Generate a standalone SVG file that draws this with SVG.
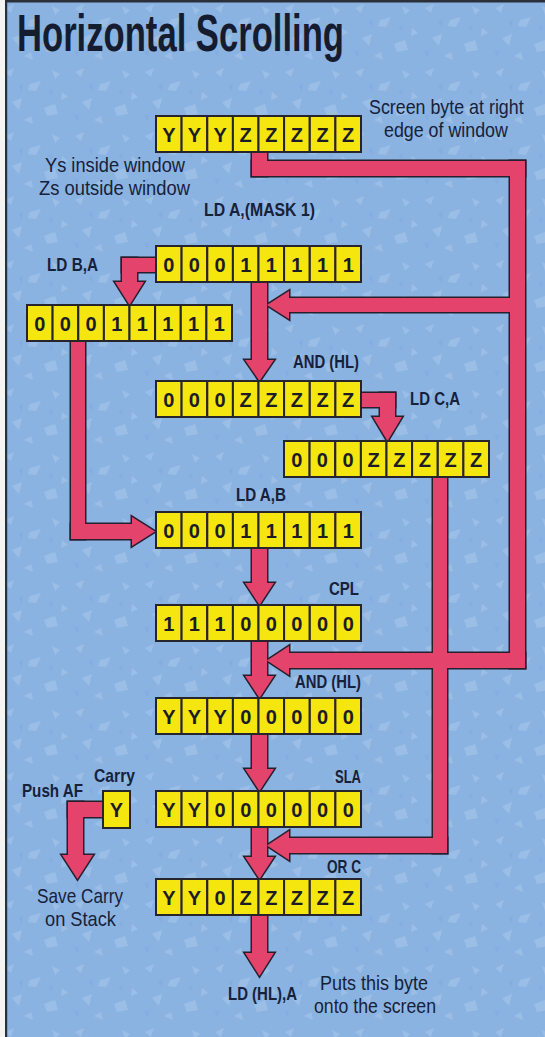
<svg xmlns="http://www.w3.org/2000/svg" xmlns:xlink="http://www.w3.org/1999/xlink" width="545" height="1037" viewBox="0 0 545 1037">
<style>
.cell{fill:#f4e60e;stroke:#26242c;stroke-width:2}
.ct{font-family:"Liberation Sans",Arial,sans-serif;font-weight:bold;font-size:20px;fill:#1c1c26;text-anchor:middle}
.lb{font-family:"Liberation Sans",Arial,sans-serif;font-weight:bold;font-size:19px;fill:#17213a}
.nt{font-family:"Liberation Sans",Arial,sans-serif;font-size:21px;fill:#17213a}
.pk-o{fill:#26202e;stroke:#26202e;stroke-width:3;stroke-linejoin:miter}
.pk-f{fill:#e4436c;stroke:none}
</style>
<defs>
<pattern id="mottle" width="70" height="64" patternUnits="userSpaceOnUse">
<rect width="70" height="64" fill="#8ab3e2"/>
<g fill="#a6c5ea" opacity="0.6">
<polygon points="5,8 14,4 11,13"/>
<polygon points="30,20 41,17 36,27 28,26"/>
<polygon points="52,6 60,10 55,15"/>
<polygon points="12,38 22,34 19,46"/>
<polygon points="44,44 55,40 58,50 47,52"/>
<polygon points="62,28 68,33 61,36"/>
<polygon points="24,56 31,52 33,60"/>
</g>
<g fill="#7ea9dc" opacity="0.5">
<polygon points="18,22 23,20 22,27"/>
<polygon points="48,28 52,25 53,31"/>
<polygon points="4,52 9,50 8,57"/>
</g>
</pattern>
<rect id="c" width="25.6" height="36" class="cell"/>
<g id="pink">
<rect x="252" y="148" width="15" height="28"/>
<rect x="252" y="161" width="273" height="15"/>
<rect x="510" y="161" width="15" height="507"/>
<rect x="286" y="298" width="230" height="14"/>
<polygon points="289,291 289,319 267,305"/>
<rect x="252" y="280" width="15" height="81"/>
<polygon points="245,360 274,360 259.5,381"/>
<rect x="122" y="258" width="36" height="14"/>
<rect x="122" y="258" width="15" height="25"/>
<polygon points="115,282 144,282 129.5,305"/>
<rect x="71" y="338" width="14" height="201"/>
<rect x="71" y="524" width="62" height="15"/>
<polygon points="132,517 132,546 155,531.5"/>
<rect x="358" y="393" width="37" height="14"/>
<rect x="380" y="393" width="15" height="25"/>
<polygon points="373,417 402,417 387.5,441"/>
<rect x="433" y="475" width="14" height="378"/>
<rect x="286" y="838" width="161" height="15"/>
<polygon points="289,831 289,860 267,845.5"/>
<rect x="286" y="653" width="239" height="15"/>
<polygon points="289,646 289,675 267,660.5"/>
<rect x="252" y="547" width="15" height="37"/>
<polygon points="245,583 274,583 259.5,605"/>
<rect x="252" y="640" width="15" height="37"/>
<polygon points="245,676 274,676 259.5,698"/>
<rect x="252" y="733" width="15" height="37"/>
<polygon points="245,769 274,769 259.5,791"/>
<rect x="252" y="826" width="15" height="32"/>
<polygon points="245,857 274,857 259.5,879"/>
<rect x="252" y="914" width="15" height="40"/>
<polygon points="245,953 274,953 259.5,976"/>
<rect x="68" y="802" width="37" height="15"/>
<rect x="68" y="802" width="15" height="54"/>
<polygon points="62,855 93,855 77.5,879"/>
</g>
</defs>

<rect x="0" y="0" width="545" height="1037" fill="#f4f4f2"/>
<rect x="6" y="2" width="539" height="1035" fill="url(#mottle)"/>
<rect x="5" y="0" width="2.2" height="1037" fill="#2a2f3a"/>
<rect x="5" y="0" width="540" height="2.5" fill="#2a2f3a"/>

<text class="lb" x="17" y="51" textLength="327" lengthAdjust="spacingAndGlyphs" style="font-size:52px;fill:#161c30">Horizontal Scrolling</text>

<g id="connectors">
<use xlink:href="#pink" class="pk-o"/>
<use xlink:href="#pink" class="pk-f"/>
</g>

<g id="reg-screen">
<use xlink:href="#c" x="156" y="116"/><use xlink:href="#c" x="181.6" y="116"/><use xlink:href="#c" x="207.3" y="116"/><use xlink:href="#c" x="232.9" y="116"/><use xlink:href="#c" x="258.5" y="116"/><use xlink:href="#c" x="284.1" y="116"/><use xlink:href="#c" x="309.8" y="116"/><use xlink:href="#c" x="335.4" y="116"/>
<text class="ct" y="142"><tspan x="168.8">Y</tspan><tspan x="194.4">Y</tspan><tspan x="220.1">Y</tspan><tspan x="245.7">Z</tspan><tspan x="271.3">Z</tspan><tspan x="296.9">Z</tspan><tspan x="322.6">Z</tspan><tspan x="348.2">Z</tspan></text>
</g>

<g id="reg-mask">
<use xlink:href="#c" x="156" y="246"/><use xlink:href="#c" x="181.6" y="246"/><use xlink:href="#c" x="207.3" y="246"/><use xlink:href="#c" x="232.9" y="246"/><use xlink:href="#c" x="258.5" y="246"/><use xlink:href="#c" x="284.1" y="246"/><use xlink:href="#c" x="309.8" y="246"/><use xlink:href="#c" x="335.4" y="246"/>
<text class="ct" y="272"><tspan x="168.8">0</tspan><tspan x="194.4">0</tspan><tspan x="220.1">0</tspan><tspan x="245.7">1</tspan><tspan x="271.3">1</tspan><tspan x="296.9">1</tspan><tspan x="322.6">1</tspan><tspan x="348.2">1</tspan></text>
</g>

<g id="reg-b">
<use xlink:href="#c" x="27" y="305"/><use xlink:href="#c" x="52.6" y="305"/><use xlink:href="#c" x="78.3" y="305"/><use xlink:href="#c" x="103.9" y="305"/><use xlink:href="#c" x="129.5" y="305"/><use xlink:href="#c" x="155.1" y="305"/><use xlink:href="#c" x="180.8" y="305"/><use xlink:href="#c" x="206.4" y="305"/>
<text class="ct" y="331"><tspan x="39.8">0</tspan><tspan x="65.4">0</tspan><tspan x="91.1">0</tspan><tspan x="116.7">1</tspan><tspan x="142.3">1</tspan><tspan x="167.9">1</tspan><tspan x="193.6">1</tspan><tspan x="219.2">1</tspan></text>
</g>

<g id="reg-and1">
<use xlink:href="#c" x="156" y="381"/><use xlink:href="#c" x="181.6" y="381"/><use xlink:href="#c" x="207.3" y="381"/><use xlink:href="#c" x="232.9" y="381"/><use xlink:href="#c" x="258.5" y="381"/><use xlink:href="#c" x="284.1" y="381"/><use xlink:href="#c" x="309.8" y="381"/><use xlink:href="#c" x="335.4" y="381"/>
<text class="ct" y="407"><tspan x="168.8">0</tspan><tspan x="194.4">0</tspan><tspan x="220.1">0</tspan><tspan x="245.7">Z</tspan><tspan x="271.3">Z</tspan><tspan x="296.9">Z</tspan><tspan x="322.6">Z</tspan><tspan x="348.2">Z</tspan></text>
</g>

<g id="reg-c">
<use xlink:href="#c" x="284" y="441"/><use xlink:href="#c" x="309.6" y="441"/><use xlink:href="#c" x="335.3" y="441"/><use xlink:href="#c" x="360.9" y="441"/><use xlink:href="#c" x="386.5" y="441"/><use xlink:href="#c" x="412.1" y="441"/><use xlink:href="#c" x="437.8" y="441"/><use xlink:href="#c" x="463.4" y="441"/>
<text class="ct" y="467"><tspan x="296.8">0</tspan><tspan x="322.4">0</tspan><tspan x="348.1">0</tspan><tspan x="373.7">Z</tspan><tspan x="399.3">Z</tspan><tspan x="424.9">Z</tspan><tspan x="450.6">Z</tspan><tspan x="476.2">Z</tspan></text>
</g>

<g id="reg-ldab">
<use xlink:href="#c" x="156" y="512"/><use xlink:href="#c" x="181.6" y="512"/><use xlink:href="#c" x="207.3" y="512"/><use xlink:href="#c" x="232.9" y="512"/><use xlink:href="#c" x="258.5" y="512"/><use xlink:href="#c" x="284.1" y="512"/><use xlink:href="#c" x="309.8" y="512"/><use xlink:href="#c" x="335.4" y="512"/>
<text class="ct" y="538"><tspan x="168.8">0</tspan><tspan x="194.4">0</tspan><tspan x="220.1">0</tspan><tspan x="245.7">1</tspan><tspan x="271.3">1</tspan><tspan x="296.9">1</tspan><tspan x="322.6">1</tspan><tspan x="348.2">1</tspan></text>
</g>

<g id="reg-cpl">
<use xlink:href="#c" x="156" y="605"/><use xlink:href="#c" x="181.6" y="605"/><use xlink:href="#c" x="207.3" y="605"/><use xlink:href="#c" x="232.9" y="605"/><use xlink:href="#c" x="258.5" y="605"/><use xlink:href="#c" x="284.1" y="605"/><use xlink:href="#c" x="309.8" y="605"/><use xlink:href="#c" x="335.4" y="605"/>
<text class="ct" y="631"><tspan x="168.8">1</tspan><tspan x="194.4">1</tspan><tspan x="220.1">1</tspan><tspan x="245.7">0</tspan><tspan x="271.3">0</tspan><tspan x="296.9">0</tspan><tspan x="322.6">0</tspan><tspan x="348.2">0</tspan></text>
</g>

<g id="reg-and2">
<use xlink:href="#c" x="156" y="698"/><use xlink:href="#c" x="181.6" y="698"/><use xlink:href="#c" x="207.3" y="698"/><use xlink:href="#c" x="232.9" y="698"/><use xlink:href="#c" x="258.5" y="698"/><use xlink:href="#c" x="284.1" y="698"/><use xlink:href="#c" x="309.8" y="698"/><use xlink:href="#c" x="335.4" y="698"/>
<text class="ct" y="724"><tspan x="168.8">Y</tspan><tspan x="194.4">Y</tspan><tspan x="220.1">Y</tspan><tspan x="245.7">0</tspan><tspan x="271.3">0</tspan><tspan x="296.9">0</tspan><tspan x="322.6">0</tspan><tspan x="348.2">0</tspan></text>
</g>

<g id="reg-sla">
<use xlink:href="#c" x="156" y="791"/><use xlink:href="#c" x="181.6" y="791"/><use xlink:href="#c" x="207.3" y="791"/><use xlink:href="#c" x="232.9" y="791"/><use xlink:href="#c" x="258.5" y="791"/><use xlink:href="#c" x="284.1" y="791"/><use xlink:href="#c" x="309.8" y="791"/><use xlink:href="#c" x="335.4" y="791"/>
<text class="ct" y="817"><tspan x="168.8">Y</tspan><tspan x="194.4">Y</tspan><tspan x="220.1">0</tspan><tspan x="245.7">0</tspan><tspan x="271.3">0</tspan><tspan x="296.9">0</tspan><tspan x="322.6">0</tspan><tspan x="348.2">0</tspan></text>
</g>

<g id="reg-carry">
<rect x="103" y="791" width="27" height="37" class="cell"/>
<text class="ct" x="116.5" y="817">Y</text>
</g>

<g id="reg-orc">
<use xlink:href="#c" x="156" y="879"/><use xlink:href="#c" x="181.6" y="879"/><use xlink:href="#c" x="207.3" y="879"/><use xlink:href="#c" x="232.9" y="879"/><use xlink:href="#c" x="258.5" y="879"/><use xlink:href="#c" x="284.1" y="879"/><use xlink:href="#c" x="309.8" y="879"/><use xlink:href="#c" x="335.4" y="879"/>
<text class="ct" y="905"><tspan x="168.8">Y</tspan><tspan x="194.4">Y</tspan><tspan x="220.1">0</tspan><tspan x="245.7">Z</tspan><tspan x="271.3">Z</tspan><tspan x="296.9">Z</tspan><tspan x="322.6">Z</tspan><tspan x="348.2">Z</tspan></text>
</g>

<g id="labels">
<text class="nt" transform="translate(369,114) scale(0.85,1)" x="0" y="0">Screen byte at right</text>
<text class="nt" transform="translate(384,137) scale(0.85,1)" x="0" y="0">edge of window</text>
<text class="nt" x="45" y="172" textLength="140" lengthAdjust="spacingAndGlyphs">Ys inside window</text>
<text class="nt" x="39" y="195" textLength="151" lengthAdjust="spacingAndGlyphs">Zs outside window</text>
<text class="lb" x="204" y="216" textLength="111" lengthAdjust="spacingAndGlyphs">LD A,(MASK 1)</text>
<text class="lb" x="47" y="271" textLength="51" lengthAdjust="spacingAndGlyphs">LD B,A</text>
<text class="lb" x="293" y="368" textLength="66" lengthAdjust="spacingAndGlyphs">AND (HL)</text>
<text class="lb" x="410" y="405" textLength="50" lengthAdjust="spacingAndGlyphs">LD C,A</text>
<text class="lb" x="236" y="501" textLength="50" lengthAdjust="spacingAndGlyphs">LD A,B</text>
<text class="lb" x="329" y="595" textLength="30" lengthAdjust="spacingAndGlyphs">CPL</text>
<text class="lb" x="295" y="688" textLength="66" lengthAdjust="spacingAndGlyphs">AND (HL)</text>
<text class="lb" x="335" y="783" textLength="26" lengthAdjust="spacingAndGlyphs">SLA</text>
<text class="lb" x="94" y="782" textLength="41" lengthAdjust="spacingAndGlyphs">Carry</text>
<text class="lb" x="22" y="797" textLength="61" lengthAdjust="spacingAndGlyphs">Push AF</text>
<text class="lb" x="327" y="873" textLength="34" lengthAdjust="spacingAndGlyphs">OR C</text>
<text class="nt" x="37" y="903" textLength="86" lengthAdjust="spacingAndGlyphs">Save Carry</text>
<text class="nt" x="45" y="926" textLength="71" lengthAdjust="spacingAndGlyphs">on Stack</text>
<text class="lb" x="228" y="1000" textLength="69" lengthAdjust="spacingAndGlyphs">LD (HL),A</text>
<text class="nt" x="320" y="990" textLength="108" lengthAdjust="spacingAndGlyphs">Puts this byte</text>
<text class="nt" x="314" y="1013" textLength="122" lengthAdjust="spacingAndGlyphs">onto the screen</text>
</g>
</svg>
